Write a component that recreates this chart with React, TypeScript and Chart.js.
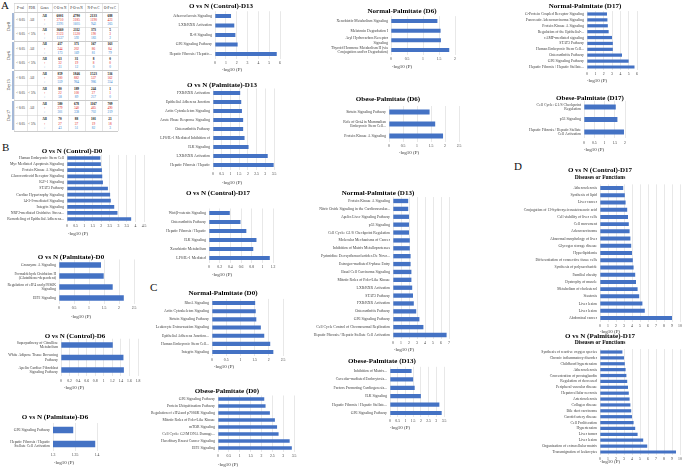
import React, { useEffect, useRef } from "react";
import { Chart, registerables } from "chart.js";
Chart.register(...registerables);

const FONT = "'Liberation Serif','Times New Roman',serif";
const BAR_COLOR = "#4472C4";
const GRID = "#d9d9d9";
const TXT = "#404040";

// ---------------- DATA ----------------
// Table A
const tableHeaders = ["P-val", "FDR", "Genes", "C-O vs N", "P-O vs N", "N-P vs C", "O-P vs C"];
const tableDays = ["Day0", "Day6", "Day13", "Day17"];
const tableFdr = ["All", "< 5%"];
const day0All = [[6001, 4790, 2133, 688], [3710, 3185, 1190, 423], [2291, 1605, 943, 265]];
const day0Fdr = [[3660, 2112, 373, 5], [2123, 1520, 190, 3], [1537, 592, 183, 2]];
const day6All = [[417, 371, 167, 163], [244, 202, 86, 84], [173, 169, 81, 79]];
const day6Fdr = [[63, 31, 8, 0], [32, 19, 8, 0], [31, 12, 0, 0]];
const day13All = [[859, 1846, 1523, 516], [300, 882, 537, 162], [559, 964, 986, 354]];
const day13Fdr = [[80, 189, 244, 1], [22, 100, 27, 1], [58, 89, 217, 0]];
const day17All = [[580, 678, 1167, 709], [279, 340, 465, 490], [301, 338, 702, 219]];
const day17Fdr = [[70, 88, 101, 21], [27, 37, 19, 18], [43, 51, 82, 3]];

// O vs N (Control)-D13
const ctrlD13Labels = ["Atherosclerosis Signaling", "LXR/RXR Activation", "IL-8 Signaling", "GP6 Signaling Pathway", "Hepatic Fibrosis / Hepatic..."];
const ctrlD13Values = [1.48, 1.78, 1.88, 2.09, 5.7];
// O vs N (Palmitate)-D13
const palD13Labels = ["FXR/RXR Activation", "Epithelial Adherens Junction", "Actin Cytoskeleton Signaling", "Acute Phase Response Signaling", "Osteoarthritis Pathway", "LPS/IL-1 Mediated Inhibition of", "ILK Signaling", "LXR/RXR Activation", "Hepatic Fibrosis / Hepatic"];
const palD13Values = [1.56, 1.62, 1.66, 1.73, 1.73, 1.81, 2.04, 3.14, 3.48];
// Normal-Palmitate (D6)
const npD6Labels = ["Xenobiotic Metabolism Signaling", "Melatonin Degradation I", ["Aryl Hydrocarbon Receptor", "Signaling"], ["Thyroid Hormone Metabolism II (via", "Conjugation and/or Degradation)"]];
const npD6Values = [1.45, 1.55, 1.56, 1.82];
// Obese-Palmitate (D6)
const opD6Labels = ["Sirtuin Signaling Pathway", ["Role of Oct4 in Mammalian", "Embryonic Stem Cell..."], "Protein Kinase A Signaling"];
const opD6Values = [1.45, 1.65, 1.93];
// Normal-Palmitate (D17)
const npD17Labels = ["G-Protein Coupled Receptor Signaling", "Pancreatic Adenocarcinoma Signaling", "Protein Kinase A Signaling", "Regulation of the Epithelial-...", "cAMP-mediated signaling", "STAT3 Pathway", "Human Embryonic Stem Cell...", "Osteoarthritis Pathway", "GP6 Signaling Pathway", "Hepatic Fibrosis / Hepatic Stellate..."];
const npD17Values = [2.4, 2.45, 2.5, 2.6, 3.0, 3.1, 3.1, 4.2, 5.0, 5.7];
// Obese-Palmitate (D17)
const opD17Labels = [["Cell Cycle: G1/S Checkpoint", "Regulation"], "p53 Signaling", ["Hepatic Fibrosis / Hepatic Stellate", "Cell Activation"]];
const opD17Values = [1.55, 1.63, 1.95];
// O vs N (Control)-D0
const ctrlD0Labels = ["Human Embryonic Stem Cell", "Myc Mediated Apoptosis Signaling", "Protein Kinase A Signaling", "Glucocorticoid Receptor Signaling", "IGF-1 Signaling", "STAT3 Pathway", "Cardiac Hypertrophy Signaling", "14-3-3-mediated Signaling", "Integrin Signaling", "NRF2-mediated Oxidative Stress...", "Remodeling of Epithelial Adherens..."];
const ctrlD0Values = [1.95, 1.98, 2.04, 2.06, 2.1, 2.39, 2.52, 2.56, 2.76, 2.95, 3.75];
// O vs N (Palmitate)-D0
const palD0Labels = ["Granzyme A Signaling", ["Formaldehyde Oxidation II", "(Glutathione-dependent)"], ["Regulation of eIF4 and p70S6K", "Signaling"], "EIF2 Signaling"];
const palD0Values = [1.4, 1.49, 1.79, 2.16];
// O vs N (Control)-D6
const ctrlD6Labels = [["Superpathway of Citrulline", "Metabolism"], ["White Adipose Tissue Browning", "Pathway"], ["Apelin Cardiac Fibroblast", "Signaling Pathway"]];
const ctrlD6Values = [1.21, 1.46, 1.47];
// O vs N (Palmitate)-D6
const palD6Labels = ["GP6 Signaling Pathway", ["Hepatic Fibrosis / Hepatic", "Stellate Cell Activation"]];
const palD6Values = [1.346, 1.396];
// O vs N (Control)-D17
const ctrlD17Labels = ["Wnt/β-catenin Signaling", "Osteoarthritis Pathway", "Hepatic Fibrosis / Hepatic", "ILK Signaling", "Xenobiotic Metabolism", "LPS/IL-1 Mediated"];
const ctrlD17Values = [0.39, 0.59, 0.7, 0.89, 0.83, 1.14];
// Normal-Palmitate (D0)
const npD0Labels = ["RhoA Signaling", "Actin Cytoskeleton Signaling", "Sirtuin Signaling Pathway", "Leukocyte Extravasation Signaling", "Epithelial Adherens Junction...", "Human Embryonic Stem Cell...", "Integrin Signaling"];
const npD0Values = [1.52, 1.54, 1.56, 1.72, 1.84, 2.05, 2.16];
// Obese-Palmitate (D0)
const opD0Labels = ["GP6 Signaling Pathway", "Protein Ubiquitination Pathway", "Regulation of eIF4 and p70S6K Signaling", "Mitotic Roles of Polo-Like Kinase", "mTOR Signaling", "Cell Cycle: G2/M DNA Damage...", "Hereditary Breast Cancer Signaling", "EIF2 Signaling"];
const opD0Values = [2.13, 2.19, 2.39, 2.62, 2.72, 2.79, 3.3, 3.4];
// Normal-Palmitate (D13)
const npD13Labels = ["Protein Kinase A Signaling", "Nitric Oxide Signaling in the Cardiovascular...", "Apelin Liver Signaling Pathway", "p53 Signaling", "Cell Cycle: G1/S Checkpoint Regulation", "Molecular Mechanisms of Cancer", "Inhibition of Matrix Metalloproteases", "Pyrimidine Deoxyribonucleotides De Novo...", "Estrogen-mediated S-phase Entry", "Basal Cell Carcinoma Signaling", "Mitotic Roles of Polo-Like Kinase", "LXR/RXR Activation", "STAT3 Pathway", "FXR/RXR Activation", "Osteoarthritis Pathway", "GP6 Signaling Pathway", "Cell Cycle Control of Chromosomal Replication", "Hepatic Fibrosis / Hepatic Stellate Cell Activation"];
const npD13Values = [1.9, 1.9, 2.0, 2.0, 2.0, 2.1, 2.1, 2.2, 2.2, 2.3, 2.3, 2.4, 2.5, 2.6, 2.9, 3.3, 3.8, 6.7];
// Obese-Palmitate (D13)
const opD13Labels = ["Inhibition of Matrix...", "Caveolar-mediated Endocytosis...", "Factors Promoting Cardiogenesis...", "ILK Signaling", "Hepatic Fibrosis / Hepatic Stellate...", "GP6 Signaling Pathway"];
const opD13Values = [1.4, 1.5, 1.6, 2.0, 3.2, 3.35];
// O vs N (Control)-D17 Diseases or Functions
const disCtrlLabels = ["Atherosclerosis", "Synthesis of lipid", "Liver cancer", "Conjugation of 12-hydroxyeicosatetraenoic acid", "Cell viability of liver cells", "Cell movement", "Adenocarcinoma", "Abnormal morphology of liver", "Glycogen storage disease", "Hyperlipidemia", "Differentiation of connective tissue cells", "Synthesis of polysaccharide", "Familial obesity", "Dystrophy of muscle", "Metabolism of cholesterol", "Steatosis", "Liver lesion", "Liver lesion", "Abdominal cancer"];
const disCtrlValues = [2.9, 3.1, 3.2, 3.4, 3.5, 3.6, 3.7, 3.8, 3.9, 4.0, 4.1, 4.2, 4.4, 4.5, 4.7, 4.9, 5.3, 5.6, 9.0];
// O vs N (Palmitate)-D17 Diseases or Functions
const disPalLabels = ["Synthesis of reactive oxygen species", "Chronic inflammatory disorder", "Childhood hypertension", "Atherosclerosis", "Concentration of prostaglandin", "Regulation of decreased", "Peripheral vascular disease", "Hepatocellular necrosis", "Arteriosclerosis", "Collagen disease", "Bile duct carcinoma", "Carotid artery disease", "Cell Proliferation", "Hypertension", "Liver tumor", "Liver lesion", "Organization of extracellular matrix", "Transmigration of leukocytes"];
const disPalValues = [2.8, 3.0, 3.1, 3.2, 3.3, 3.4, 3.5, 3.6, 3.7, 3.8, 3.9, 4.0, 4.2, 4.4, 4.7, 5.4, 5.9, 9.5];

// ---------------- PANELS ----------------
type Spec = {
  title: string; subtitle?: string; labels: any[]; values: number[];
  min: number; max: number; step: number;
  x0: number; x1: number; yFirst: number; yLast: number; labelW: number;
  titleX: number; titleY: number; subY?: number; xlabX: number; xlabY: number; bar?: number;
};

const panels: Spec[] = [
  { title: "O vs N (Control)-D13", labels: ctrlD13Labels, values: ctrlD13Values, min: 0, max: 6, step: 1, x0: 215, x1: 280, yFirst: 16, yLast: 54, labelW: 65, titleX: 221, titleY: 6, xlabX: 232, xlabY: 70, bar: 0.42 },
  { title: "O vs N (Palmitate)-D13", labels: palD13Labels, values: palD13Values, min: 0, max: 3.5, step: 0.5, x0: 213, x1: 274, yFirst: 93, yLast: 165, labelW: 65, titleX: 222, titleY: 85, xlabX: 232, xlabY: 183, bar: 0.45 },
  { title: "Normal-Palmitate (D6)", labels: npD6Labels, values: npD6Values, min: 0, max: 2, step: 0.5, x0: 391, x1: 455, yFirst: 21, yLast: 50, labelW: 72, titleX: 402, titleY: 11, xlabX: 402, xlabY: 67, bar: 0.42 },
  { title: "Obese-Palmitate (D6)", labels: opD6Labels, values: opD6Values, min: 0, max: 2.5, step: 0.5, x0: 389, x1: 459, yFirst: 112, yLast: 136, labelW: 70, titleX: 388, titleY: 99, xlabX: 409, xlabY: 153, bar: 0.42 },
  { title: "Normal-Palmitate (D17)", labels: npD17Labels, values: npD17Values, min: 0, max: 6, step: 1, x0: 587, x1: 637, yFirst: 14, yLast: 67, labelW: 72, titleX: 585, titleY: 6, xlabX: 597, xlabY: 81, bar: 0.55 },
  { title: "Obese-Palmitate (D17)", labels: opD17Labels, values: opD17Values, min: 0, max: 2, step: 0.5, x0: 584, x1: 625, yFirst: 107, yLast: 132, labelW: 70, titleX: 590, titleY: 98, xlabX: 594, xlabY: 150, bar: 0.4 },
  { title: "O vs N (Control)-D0", labels: ctrlD0Labels, values: ctrlD0Values, min: 0, max: 4.5, step: 0.5, x0: 67, x1: 144, yFirst: 158, yLast: 219, labelW: 64, titleX: 72, titleY: 151, xlabX: 78, xlabY: 234, bar: 0.6 },
  { title: "O vs N (Palmitate)-D0", labels: palD0Labels, values: palD0Values, min: 0, max: 2.5, step: 0.5, x0: 59, x1: 134, yFirst: 265, yLast: 298, labelW: 58, titleX: 71, titleY: 257, xlabX: 81, xlabY: 317, bar: 0.5 },
  { title: "O vs N (Control)-D6", labels: ctrlD6Labels, values: ctrlD6Values, min: 0, max: 1.8, step: 0.2, x0: 61, x1: 138, yFirst: 345, yLast: 370, labelW: 60, titleX: 75, titleY: 336, xlabX: 74, xlabY: 388, bar: 0.45 },
  { title: "O vs N (Palmitate)-D6", labels: palD6Labels, values: palD6Values, min: 1.3, max: 1.4, step: 0.05, x0: 53, x1: 97, yFirst: 430, yLast: 444, labelW: 52, titleX: 55, titleY: 417, xlabX: 64, xlabY: 463, bar: 0.45 },
  { title: "O vs N (Control)-D17", labels: ctrlD17Labels, values: ctrlD17Values, min: 0, max: 1.2, step: 0.2, x0: 209, x1: 273, yFirst: 213, yLast: 258, labelW: 64, titleX: 218, titleY: 193, xlabX: 222, xlabY: 275, bar: 0.45 },
  { title: "Normal-Palmitate (D0)", labels: npD0Labels, values: npD0Values, min: 0, max: 2.5, step: 0.5, x0: 212, x1: 283, yFirst: 303, yLast: 352, labelW: 66, titleX: 223, titleY: 293, xlabX: 224, xlabY: 367, bar: 0.5 },
  { title: "Obese-Palmitate (D0)", labels: opD0Labels, values: opD0Values, min: 0, max: 3.5, step: 0.5, x0: 218, x1: 294, yFirst: 399, yLast: 448, labelW: 74, titleX: 227, titleY: 391, xlabX: 228, xlabY: 465, bar: 0.5 },
  { title: "Normal-Palmitate (D13)", labels: npD13Labels, values: npD13Values, min: 0, max: 7, step: 1, x0: 393, x1: 449, yFirst: 201, yLast: 335, labelW: 95, titleX: 378, titleY: 193, xlabX: 404, xlabY: 350, bar: 0.55 },
  { title: "Obese-Palmitate (D13)", labels: opD13Labels, values: opD13Values, min: 0, max: 3.5, step: 0.5, x0: 390, x1: 444, yFirst: 371, yLast: 413, labelW: 80, titleX: 382, titleY: 361, xlabX: 400, xlabY: 428, bar: 0.5 },
  { title: "O vs N (Control)-D17", subtitle: "Diseases or Functions", labels: disCtrlLabels, values: disCtrlValues, min: 0, max: 10, step: 1, x0: 600, x1: 680, yFirst: 188, yLast: 318, labelW: 95, titleX: 600, titleY: 170, subY: 178, xlabX: 610, xlabY: 332, bar: 0.55 },
  { title: "O vs N (Palmitate)-D17", subtitle: "Diseases or Functions", labels: disPalLabels, values: disPalValues, min: 0, max: 10, step: 1, x0: 600, x1: 680, yFirst: 352, yLast: 452, labelW: 95, titleX: 600, titleY: 336, subY: 343, xlabX: 610, xlabY: 462, bar: 0.55 },
];

const fmt = (v: any) => String(Math.round(Number(v) * 1000) / 1000);

const textPlugin = {
  id: "panelText",
  afterDraw(chart: any, _a: any, opts: any) {
    const ctx = chart.ctx;
    ctx.save();
    for (const t of opts.items || []) {
      ctx.font = `${t.bold ? "bold " : ""}${t.size}px ${FONT}`;
      ctx.fillStyle = t.color;
      ctx.textAlign = "center";
      ctx.textBaseline = "middle";
      ctx.fillText(t.text, t.x, t.y);
    }
    ctx.restore();
  },
};

function MiniBar({ p }: { p: Spec }) {
  const ref = useRef<HTMLCanvasElement>(null);
  const n = p.labels.length;
  const sp = (p.yLast - p.yFirst) / Math.max(1, n - 1);
  const y0 = p.yFirst - sp / 2;
  const y1 = p.yLast + sp / 2;
  const left = p.x0 - p.labelW;
  const top = Math.floor(Math.min(p.titleY - 6, y0 - 2));
  const right = p.x1 + 8;
  const bottom = p.xlabY + 5;
  const W = right - left;
  const H = bottom - top;
  useEffect(() => {
    const items: any[] = [
      { text: p.title, x: p.titleX - left, y: p.titleY - top, size: 7, bold: true, color: "#000" },
      { text: "-log10 (P)", x: p.xlabX - left, y: p.xlabY - top, size: 5, bold: false, color: "#333" },
    ];
    if (p.subtitle) items.push({ text: p.subtitle, x: p.titleX - left, y: (p.subY || p.titleY + 8) - top, size: 5.5, bold: true, color: "#000" });
    const chart = new Chart(ref.current as HTMLCanvasElement, {
      type: "bar",
      data: {
        labels: p.labels,
        datasets: [{ data: p.values, backgroundColor: BAR_COLOR, borderWidth: 0, barPercentage: p.bar ?? 0.5, categoryPercentage: 1 }],
      },
      options: {
        indexAxis: "y",
        animation: false,
        responsive: false,
        maintainAspectRatio: false,
        events: [],
        layout: { padding: { top: y0 - top, right: right - p.x1, left: 0, bottom: 0 } },
        plugins: { legend: { display: false }, tooltip: { enabled: false }, title: { display: false }, panelText: { items } } as any,
        scales: {
          x: {
            min: p.min, max: p.max,
            ticks: { stepSize: p.step, font: { size: 3.8, family: FONT }, color: TXT, padding: 2, autoSkip: false, maxRotation: 0, callback: fmt },
            grid: { color: GRID, lineWidth: 0.6, drawTicks: false },
            border: { display: false },
            afterFit: (s: any) => { s.height = bottom - y1; },
          } as any,
          y: {
            ticks: { font: { size: 3.8, family: FONT }, color: TXT, padding: 3, autoSkip: false },
            grid: { display: false, drawTicks: false },
            border: { display: false },
            afterFit: (s: any) => { s.width = p.labelW; },
          } as any,
        },
      },
      plugins: [textPlugin],
    });
    return () => chart.destroy();
  }, []);
  return <canvas ref={ref} width={W} height={H} style={{ position: "absolute", left, top, width: W, height: H }} />;
}

// ---------------- TABLE ----------------
const colEdges = [14, 27, 37, 52, 68, 85, 102, 118];
const blockEdges = [12, 27, 41, 55.5, 70, 85, 100, 115.5, 131];
const tableData = [day0All, day0Fdr, day6All, day6Fdr, day13All, day13Fdr, day17All, day17Fdr];

function TableA() {
  const S = 2;
  const els: any[] = [];
  const cell = (key: string, x: number, y: number, text: string, color: string, bold = false, size = 3.4) => {
    els.push(
      <div key={key} style={{ position: "absolute", left: (x - 15) * S, top: (y - 3) * S, width: 30 * S, height: 6 * S, lineHeight: `${6 * S}px`, textAlign: "center", fontSize: size * S, color, fontWeight: bold ? 700 : 400, fontFamily: FONT, whiteSpace: "nowrap" }}>{text}</div>
    );
  };
  const line = (key: string, x: number, y: number, w: number, h: number, color: string) => {
    els.push(<div key={key} style={{ position: "absolute", left: x * S, top: y * S, width: w * S, height: h * S, background: color }} />);
  };
  tableHeaders.forEach((h, i) => cell("h" + i, (colEdges[i] + colEdges[i + 1]) / 2, 7.5, h, "#222", false, 3.3));
  line("top", colEdges[0], 3, colEdges[7] - colEdges[0], 0.5, "#bbb");
  blockEdges.forEach((y, i) => line("hl" + i, colEdges[0], y, colEdges[7] - colEdges[0], i % 2 === 0 ? 0.7 : 0.4, i % 2 === 0 ? "#999" : "#ccc"));
  colEdges.forEach((x, i) => line("vl" + i, x, 3, 0.4, 128, "#ccc"));
  tableDays.forEach((d, i) => {
    const a = blockEdges[i * 2] + 1, b = blockEdges[i * 2 + 2] - 1;
    line("bl" + i, 12.5, a, 0.8, b - a, "#4a72b0");
    els.push(
      <div key={"d" + i} style={{ position: "absolute", left: 8.5 * S - 20 * S, top: ((a + b) / 2) * S - 3 * S, width: 40 * S, height: 6 * S, lineHeight: `${6 * S}px`, textAlign: "center", fontSize: 4.2 * S, fontFamily: FONT, color: "#222", transform: "rotate(-90deg)" }}>{d}</div>
    );
  });
  tableData.forEach((blk, bi) => {
    const a = blockEdges[bi], b = blockEdges[bi + 1];
    const mid = (a + b) / 2;
    cell("p" + bi, (colEdges[0] + colEdges[1]) / 2, mid, "< 0.05", "#222");
    cell("f" + bi, (colEdges[1] + colEdges[2]) / 2, mid, tableFdr[bi % 2], "#222");
    const ys = [a + (b - a) * 0.22, a + (b - a) * 0.5, a + (b - a) * 0.78];
    const genes = ["All", "↑", "↓"];
    const colors = ["#111", "#e02020", "#2f7fd0"];
    blk.forEach((row, ri) => {
      cell(`g${bi}_${ri}`, (colEdges[2] + colEdges[3]) / 2, ys[ri], genes[ri], colors[ri], ri === 0);
      row.forEach((v, ci) => cell(`v${bi}_${ri}_${ci}`, (colEdges[3 + ci] + colEdges[4 + ci]) / 2, ys[ri], String(v), colors[ri], ri === 0));
    });
  });
  return (
    <div style={{ position: "absolute", left: 0, top: 0, width: 130 * S, height: 135 * S, transform: `scale(${1 / S})`, transformOrigin: "0 0" }}>{els}</div>
  );
}

const letters = [
  { t: "A", x: 1, y: -1 },
  { t: "B", x: 2, y: 141 },
  { t: "C", x: 150, y: 281 },
  { t: "D", x: 514, y: 160 },
];

export default function App() {
  useEffect(() => {
    document.body.style.margin = "0";
  }, []);
  return (
    <div style={{ position: "relative", width: 685, height: 468, background: "#fff", overflow: "hidden", fontFamily: FONT }}>
      <TableA />
      {letters.map((l) => (
        <div key={l.t} style={{ position: "absolute", left: l.x, top: l.y, fontSize: 11, fontFamily: FONT, color: "#111", lineHeight: "12px" }}>{l.t}</div>
      ))}
      {panels.map((p, i) => <MiniBar key={i} p={p} />)}
    </div>
  );
}
